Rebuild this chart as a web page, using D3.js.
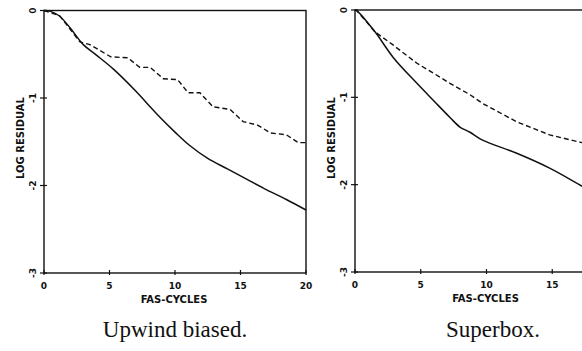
<!DOCTYPE html>
<html>
<head>
<meta charset="utf-8">
<script src="https://cdn.jsdelivr.net/npm/d3@7"></script>
<style>
  body { margin: 0; background: #fff; }
  .lbl { font-family: "DejaVu Sans", sans-serif; font-weight: bold; fill: #111; }
  .cap { font-family: "Liberation Serif", serif; fill: #111; }
</style>
</head>
<body>
<script>
// Data, [fas-cycles, log residual]
var upwindSolid = [[0,0],[0.5,-0.01],[1.15,-0.06],[2,-0.2],[3,-0.39],[4,-0.51],[5.3,-0.67],[7,-0.92],
  [8.1,-1.1],[8.85,-1.22],[10,-1.39],[11.1,-1.54],[12.5,-1.69],[14,-1.81],[15.5,-1.93],[17,-2.05],
  [18.5,-2.16],[20,-2.28]];
var upwindDashed = [[0,0],[1.2,-0.06],[2.75,-0.36],[3.5,-0.39],[5.1,-0.53],[6.4,-0.54],[7.3,-0.65],
  [8.1,-0.65],[9.1,-0.78],[10.2,-0.79],[11,-0.94],[11.9,-0.94],[12.9,-1.1],[14.2,-1.13],[15.2,-1.27],
  [16.3,-1.31],[17.3,-1.4],[18.5,-1.42],[19.4,-1.51],[20,-1.51]];
var superSolid = [[0,0],[0.15,-0.01],[1.52,-0.25],[2.89,-0.54],[4.71,-0.84],[5.93,-1.03],[7.22,-1.23],
  [7.98,-1.34],[8.75,-1.4],[9.7,-1.49],[12.3,-1.64],[14.8,-1.81],[17.3,-2.02],[20,-2.25]];
var superDashed = [[0,0],[0.15,-0.01],[1.52,-0.25],[2.89,-0.4],[4.71,-0.61],[5.93,-0.72],[7.22,-0.84],
  [8.75,-0.97],[9.7,-1.07],[12.3,-1.28],[14.8,-1.43],[17.3,-1.52],[20,-1.6]];

var xTicks = [0, 5, 10, 15, 20];
var yTicks = [0, -1, -2, -3];
var xTitle = 'FAS-CYCLES';
var yTitle = 'LOG RESIDUAL';

var WIDTH = 582;
var HEIGHT = 351;
var INK = '#111';

var svg = d3.select('body').append('svg')
  .attr('width', WIDTH)
  .attr('height', HEIGHT);

var panels = [
  { left: 44, right: 306, top: 10.5, bottom: 273, solid: upwindSolid, dashed: upwindDashed,
    caption: 'Upwind biased.', capX: 175 },
  { left: 355, right: 618, top: 10, bottom: 272, solid: superSolid, dashed: superDashed,
    caption: 'Superbox.', capX: 493 }
];

panels.forEach(function (p) {
  var x = d3.scaleLinear().domain([0, 20]).range([p.left, p.right]);
  var y = d3.scaleLinear().domain([0, -3]).range([p.top, p.bottom]);
  var g = svg.append('g');
  // the second panel runs off the right edge, skip labels that would be cut
  var shownX = xTicks.filter(function (d) { return x(d) < WIDTH - 8; });

  // frame
  g.append('rect')
    .attr('x', p.left).attr('y', p.top)
    .attr('width', p.right - p.left).attr('height', p.bottom - p.top)
    .attr('fill', 'none').attr('stroke', INK).attr('stroke-width', 1.4);

  // x ticks
  g.selectAll('.xt').data(shownX).enter().append('line')
    .attr('x1', x).attr('x2', x)
    .attr('y1', p.bottom - 3).attr('y2', p.bottom + 2)
    .attr('stroke', INK).attr('stroke-width', 1.2);
  g.selectAll('.xl').data(shownX).enter().append('text')
    .attr('class', 'lbl')
    .attr('x', x).attr('y', p.bottom + 16)
    .attr('text-anchor', 'middle')
    .style('font-size', '9px')
    .text(function (d) { return d; });

  // y ticks
  g.selectAll('.yt').data(yTicks).enter().append('line')
    .attr('x1', p.left - 4).attr('x2', p.left + 3)
    .attr('y1', y).attr('y2', y)
    .attr('stroke', INK).attr('stroke-width', 1.2);
  g.selectAll('.yl').data(yTicks).enter().append('text')
    .attr('class', 'lbl')
    .attr('transform', function (d) { return 'translate(' + (p.left - 8) + ',' + y(d) + ') rotate(-90)'; })
    .attr('text-anchor', 'middle')
    .style('font-size', '9px')
    .text(function (d) { return d; });

  // axis titles
  g.append('text')
    .attr('class', 'lbl')
    .attr('x', (p.left + p.right) / 2 - 1).attr('y', p.bottom + 30)
    .attr('text-anchor', 'middle')
    .style('font-size', '10px')
    .text(xTitle);
  g.append('text')
    .attr('class', 'lbl')
    .attr('transform', 'translate(' + (p.left - 20) + ',' + 138 + ') rotate(-90)')
    .attr('text-anchor', 'middle')
    .style('font-size', '10px')
    .text(yTitle);

  // lines
  var solidLine = d3.line()
    .x(function (d) { return x(d[0]); })
    .y(function (d) { return y(d[1]); })
    .curve(d3.curveCatmullRom.alpha(0.5));
  var dashedLine = d3.line()
    .x(function (d) { return x(d[0]); })
    .y(function (d) { return y(d[1]); });

  g.append('path')
    .attr('d', solidLine(p.solid))
    .attr('fill', 'none').attr('stroke', INK).attr('stroke-width', 1.5)
    .attr('stroke-linejoin', 'round');
  g.append('path')
    .attr('d', dashedLine(p.dashed))
    .attr('fill', 'none').attr('stroke', INK).attr('stroke-width', 1.4)
    .attr('stroke-dasharray', '5,3');

  // caption
  g.append('text')
    .attr('class', 'cap')
    .attr('x', p.capX).attr('y', 337)
    .attr('text-anchor', 'middle')
    .style('font-size', '23px')
    .text(p.caption);
});
</script>
</body>
</html>
